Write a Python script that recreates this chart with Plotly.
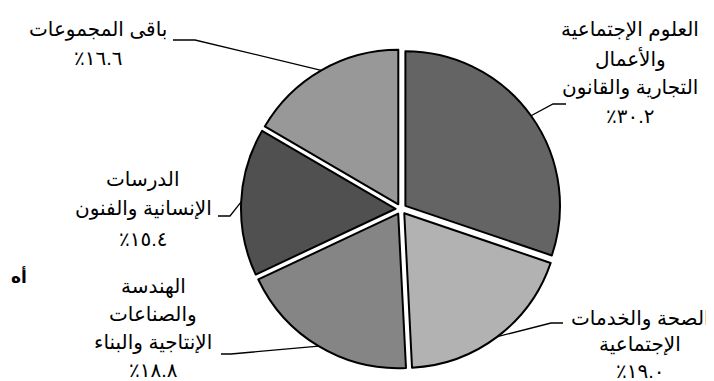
import math
import plotly.graph_objects as go

# data
groups = [
    ["العلوم الإجتماعية", "والأعمال", "التجارية والقانون"],
    ["الصحة والخدمات", "الإجتماعية"],
    ["الهندسة", "والصناعات", "الإنتاجية والبناء"],
    ["الدرسات", "الإنسانية والفنون"],
    ["باقى المجموعات"],
]
shares = [30.2, 19.0, 18.8, 15.4, 16.6]
colors = ["#646464", "#b2b2b2", "#858585", "#505050", "#989898"]
cut_title = "أه"  # clipped heading at the left edge

W, H = 714, 381
PULL = 0.035
dom_x = [233 / W, 553 / W]
dom_y = [1 - 361 / H, 1 - 41 / H]

# label placement (pixels): text centre x, first line y, line step, elbow, line end
label_pos = [
    (622, 22, 28.5, (545, 96), (558, 96)),
    (632, 310, 26.5, (543, 315), (555, 315)),
    (145, 278, 28, (223, 346), (213, 346)),
    (135, 171, 30, (222, 208), (210, 208)),
    (90, 22, 28, (187, 32), (165, 32)),
]

AR_DIGITS = str.maketrans("0123456789", "٠١٢٣٤٥٦٧٨٩")


def pct_text(v):
    return f"{v:.1f}".translate(AR_DIGITS) + "٪\u200f"


def px(x, y):
    return x / W, 1 - y / H


fig = go.Figure(go.Pie(
    labels=[" ".join(g) for g in groups],
    values=shares,
    sort=False,
    direction="clockwise",
    rotation=0,
    pull=[PULL] * len(shares),
    marker=dict(colors=colors, line=dict(color="black", width=2)),
    textinfo="none",
    hoverinfo="label+percent",
    domain=dict(x=dom_x, y=dom_y),
))

# pie geometry in pixels
cx = (dom_x[0] + dom_x[1]) / 2 * W
cy = (1 - (dom_y[0] + dom_y[1]) / 2) * H
half = min((dom_x[1] - dom_x[0]) * W, (dom_y[1] - dom_y[0]) * H) / 2
r = half / (1 + PULL)

font = dict(family="Arial, Liberation Sans, DejaVu Sans, sans-serif", size=20, color="black")
total = sum(shares)
start = 0.0
for lines, v, (tx, ty, step, elbow, end) in zip(groups, shares, label_pos):
    mid = math.radians((start + v / 2) / total * 360)
    start += v
    ex = cx + r * (1 + PULL) * math.sin(mid)
    ey = cy - r * (1 + PULL) * math.cos(mid)
    x0, y0 = px(ex, ey)
    x1, y1 = px(*elbow)
    x2, y2 = px(*end)
    fig.add_shape(type="path", xref="paper", yref="paper",
                  path=f"M {x0} {y0} L {x1} {y1} L {x2} {y2}",
                  line=dict(color="black", width=1.3))
    for i, t in enumerate(lines + [pct_text(v)]):
        ax, ay = px(tx, ty + i * step)
        fig.add_annotation(x=ax, y=ay, xref="paper", yref="paper", text=t,
                           showarrow=False, xanchor="center", yanchor="middle",
                           font=font, borderpad=0)

# bold fragment of a heading that is cut by the left edge
tx, ty = px(2, 268)
fig.add_annotation(x=tx, y=ty, xref="paper", yref="paper", text=f"<b>{cut_title}</b>",
                   showarrow=False, xanchor="left", yanchor="middle",
                   font=dict(family=font["family"], size=17, color="black"), borderpad=0)

fig.update_layout(
    width=W, height=H,
    margin=dict(l=0, r=0, t=0, b=0),
    paper_bgcolor="white", plot_bgcolor="white",
    showlegend=False,
)

fig.write_html("out.html")
